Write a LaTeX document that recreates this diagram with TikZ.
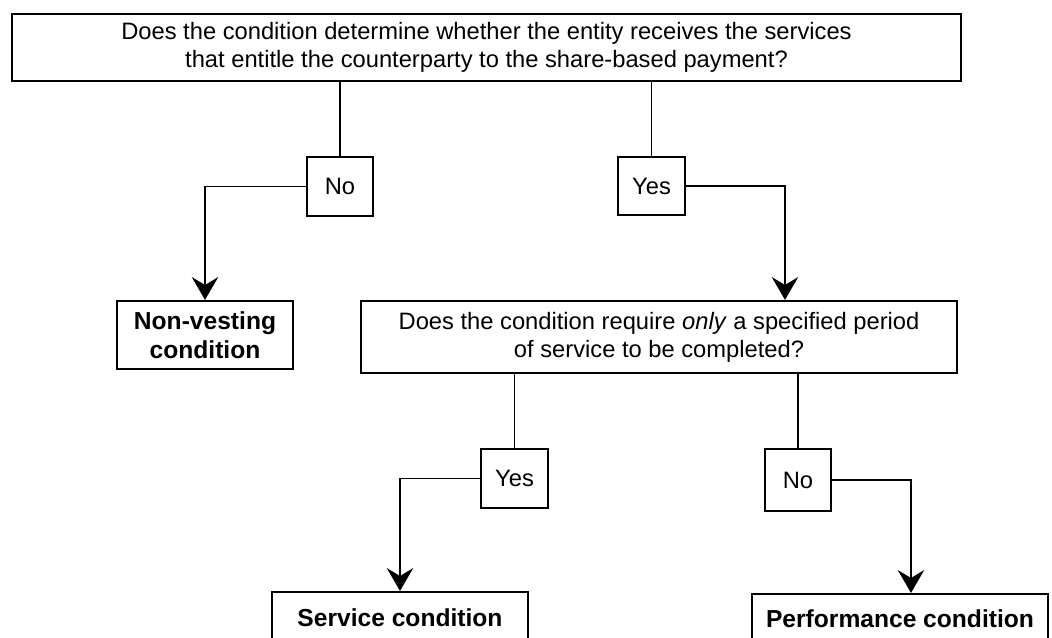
\documentclass[tikz,border=0pt]{standalone}
\usepackage{fontspec}
\setmainfont{Liberation Sans}
\usetikzlibrary{arrows.meta}

\begin{document}
\begin{tikzpicture}[x=0.02cm,y=-0.02cm]
	\tikzstyle{BoxStyle}  = [shape=rectangle, draw, line width=1.2pt, align=center, inner sep=0pt,
	                         font=\fontsize{13.5}{16}\selectfont]
	\tikzstyle{AnsStyle}  = [BoxStyle, line width=1.1pt]
	\tikzstyle{EndStyle}  = [BoxStyle, font=\fontsize{14}{16.5}\selectfont\bfseries]
	\tikzstyle{EdgeStyle} = [line width=1.1pt]
	\tikzstyle{ArrowStyle}= [EdgeStyle, -{Stealth[length=13pt,width=15pt,inset=4.5pt]}]

	\clip (0,0) rectangle (1052,638);

	\node[BoxStyle, minimum width=949*0.02cm, minimum height=67*0.02cm] (Question1) at (486.5,47.5)
		{Does the condition determine whether the entity receives the services\\
		 that entitle the counterparty to the share-based payment?};
	\node[AnsStyle, minimum width=66*0.02cm, minimum height=59*0.02cm] (No1)  at (340,186.5) {No};
	\node[AnsStyle, minimum width=67*0.02cm, minimum height=58*0.02cm] (Yes1) at (651.5,186) {Yes};
	\node[EndStyle, minimum width=176*0.02cm, minimum height=68*0.02cm] (NonVesting) at (205,335)
		{Non-vesting\\condition};
	\node[BoxStyle, minimum width=596*0.02cm, minimum height=72*0.02cm] (Question2) at (659,337)
		{Does the condition require \textit{only} a specified period\\
		 of service to be completed?};
	\node[AnsStyle, minimum width=67*0.02cm, minimum height=59*0.02cm] (Yes2) at (514.5,478.5) {Yes};
	\node[AnsStyle, minimum width=66*0.02cm, minimum height=62*0.02cm] (No2)  at (798,480) {No};
	\node[EndStyle, minimum width=256*0.02cm, minimum height=52*0.02cm] (Service) at (400,618)
		{Service condition};
	\node[EndStyle, minimum width=296*0.02cm, minimum height=50*0.02cm] (Performance) at (900,619)
		{Performance condition};

	% first question
	\draw[EdgeStyle] (No1.north) -- (No1.north |- Question1.south);
	\draw[EdgeStyle] (Yes1.north) -- (Yes1.north |- Question1.south);
	\draw[ArrowStyle] (No1.west) -| (NonVesting.north);
	\draw[ArrowStyle] (Yes1.east) -| ([xshift=2.52cm]Question2.north);
	% second question
	\draw[EdgeStyle] (Yes2.north) -- (Yes2.north |- Question2.south);
	\draw[EdgeStyle] (No2.north) -- (No2.north |- Question2.south);
	\draw[ArrowStyle] (Yes2.west) -| (Service.north);
	\draw[ArrowStyle] (No2.east) -| ([xshift=0.22cm]Performance.north);
\end{tikzpicture}
\end{document}
